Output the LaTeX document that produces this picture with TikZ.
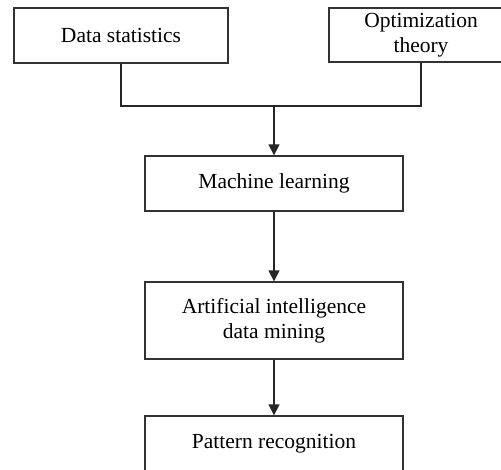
\documentclass[tikz,border=0pt]{standalone}
\usepackage{fontspec}
\setmainfont{Liberation Serif}
\usetikzlibrary{calc,shapes,arrows.meta,positioning}

\tikzset{
    block/.style={draw=black!80, line width=1.3pt, fill=white, align=center,
        inner sep=0pt, font=\fontsize{21.5}{25.5}\selectfont},
    flow/.style={draw=black!85, line width=1.3pt},
    flowarrow/.style={flow, -{Triangle[width=11pt,length=11pt]}}
}

\begin{document}
\begin{tikzpicture}[x=1pt,y=-1pt]
    \useasboundingbox (0,0) rectangle (501,469);
    \clip (0,0) rectangle (501,469);

    \node[block, minimum width=214pt, minimum height=55pt] (stats) at (121,35.5) {Data statistics};
    \node[block, minimum width=184pt, minimum height=54pt] (optim) at (421,35) {Optimization\\theory};

    \node[block, minimum width=258pt, minimum height=55pt] (learn) at (274,183.5) {Machine learning};
    \node[block, minimum width=258pt, minimum height=77pt] (mining) at (274,320.5) {Artificial intelligence\\data mining};
    \node[block, minimum width=258pt, minimum height=56pt] (pattern) at (274,444) {Pattern recognition};

    \coordinate (join) at (274,106);
    \draw [flow] (stats.south) |- (join) -| (optim.south);
    \draw [flowarrow] (join) -- (learn.north);
    \draw [flowarrow] (learn.south) -- (mining.north);
    \draw [flowarrow] (mining.south) -- (pattern.north);

\end{tikzpicture}
\end{document}
